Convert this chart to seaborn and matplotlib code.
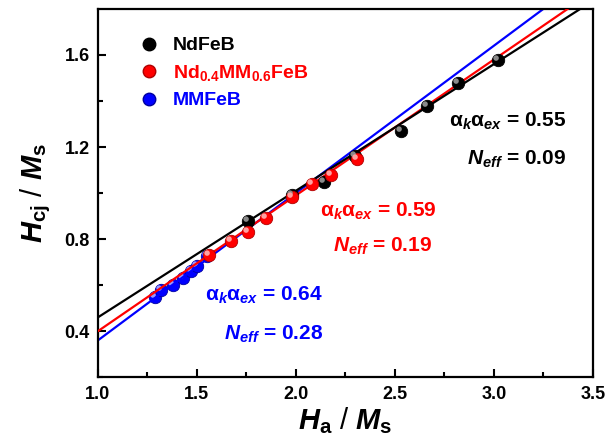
import numpy as np
import pandas as pd
import seaborn as sns
import matplotlib.pyplot as plt
import matplotlib.path as mpath
from matplotlib.lines import Line2D

# --- data ---
ndfeb_ha = [1.76, 1.98, 2.14, 2.30, 2.53, 2.66, 2.82, 3.02]
ndfeb_hcj = [0.88, 0.99, 1.05, 1.16, 1.27, 1.38, 1.48, 1.58]

ndmm_ha = [1.56, 1.67, 1.76, 1.85, 1.98, 2.08, 2.18, 2.31]
ndmm_hcj = [0.73, 0.79, 0.83, 0.89, 0.985, 1.04, 1.08, 1.15]

mmfeb_ha = [1.29, 1.32, 1.38, 1.43, 1.47, 1.50, 1.55]
mmfeb_hcj = [0.55, 0.58, 0.60, 0.63, 0.66, 0.685, 0.725]

# linear fits  Hcj/Ms = a_k*a_ex * Ha/Ms - N_eff
fit_slope = [0.55, 0.59, 0.64]
fit_neff = [0.09, 0.19, 0.28]
fit_range = np.array([1.0, 3.5])

names = ['NdFeB', 'Nd0.4MM0.6FeB', 'MMFeB']
legend_labels = ['NdFeB', r'Nd$_{\mathrm{0.4}}$MM$_{\mathrm{0.6}}$FeB', 'MMFeB']
colors = ['#000000', '#ff0000', '#0000ff']
edge_colors = ['#000000', '#b00000', '#0000a0']
glow_colors = ['#8a8a8a', '#ffa0a0', '#9a9aff']

df = pd.concat([
    pd.DataFrame({'Ha': ndfeb_ha, 'Hcj': ndfeb_hcj, 'alloy': names[0]}),
    pd.DataFrame({'Ha': ndmm_ha, 'Hcj': ndmm_hcj, 'alloy': names[1]}),
    pd.DataFrame({'Ha': mmfeb_ha, 'Hcj': mmfeb_hcj, 'alloy': names[2]}),
])

# --- style ---
sns.set_theme(style='ticks')
plt.rcParams['font.family'] = ['Liberation Sans', 'DejaVu Sans']
plt.rcParams['font.weight'] = 'bold'
plt.rcParams['text.color'] = 'black'
plt.rcParams['axes.labelcolor'] = 'black'
plt.rcParams['xtick.color'] = 'black'
plt.rcParams['ytick.color'] = 'black'
plt.rcParams['mathtext.fontset'] = 'custom'
plt.rcParams['mathtext.rm'] = 'Liberation Sans:bold'
plt.rcParams['mathtext.bf'] = 'Liberation Sans:bold'
plt.rcParams['mathtext.it'] = 'Liberation Sans:italic:bold'

fig = plt.figure(figsize=(6.08, 4.48), dpi=100)
ax = fig.add_axes([0.161, 0.158, 0.814, 0.822])

# small highlight spot to make the markers look like shaded balls
circ = mpath.Path.unit_circle()
spot = mpath.Path(circ.vertices * 0.25 + [-0.22, 0.22], circ.codes)

point_z = [4, 4, 1.5]
for i, name in enumerate(names):
    sub = df[df['alloy'] == name]
    sns.scatterplot(data=sub, x='Ha', y='Hcj', color=colors[i], s=80,
                    edgecolor=edge_colors[i], linewidth=0.6, ax=ax,
                    zorder=point_z[i], legend=False)
    ax.scatter(sub['Ha'], sub['Hcj'], marker=spot, s=55, color=glow_colors[i],
               linewidths=0, zorder=point_z[i] + 0.1)

line_z = [3.5, 3, 2]
for i in range(3):
    fy = fit_slope[i] * fit_range - fit_neff[i]
    sns.lineplot(x=fit_range, y=fy, color=colors[i], linewidth=1.6, ax=ax,
                 zorder=line_z[i])

ax.set_xlim(1.0, 3.5)
ax.set_ylim(0.2, 1.8)
ax.set_xticks([1.0, 1.5, 2.0, 2.5, 3.0, 3.5])
ax.set_xticks(np.arange(1.25, 3.5, 0.5), minor=True)
ax.set_yticks([0.4, 0.8, 1.2, 1.6])
ax.set_yticks([0.2, 0.6, 1.0, 1.4], minor=True)
ax.xaxis.set_major_formatter(plt.FormatStrFormatter('%.1f'))
ax.yaxis.set_major_formatter(plt.FormatStrFormatter('%.1f'))

ax.tick_params(which='major', direction='in', length=6, width=1.5,
               labelsize=13, pad=6, colors='black')
ax.tick_params(which='minor', direction='in', length=3.5, width=1.5,
               colors='black')
for sp in ax.spines.values():
    sp.set_linewidth(1.6)
    sp.set_color('black')

ax.set_xlabel(r'$\mathit{H}_{\mathrm{a}}$ / $\mathit{M}_{\mathrm{s}}$',
              fontsize=21, labelpad=2)
ax.set_ylabel(r'$\mathit{H}_{\mathrm{cj}}$ / $\mathit{M}_{\mathrm{s}}$',
              fontsize=21, labelpad=8)

# legend
handles = [Line2D([], [], marker='o', linestyle='none', markersize=9,
                  markerfacecolor=colors[i], markeredgecolor=edge_colors[i])
           for i in range(3)]
leg = ax.legend(handles, legend_labels, loc='upper left',
                bbox_to_anchor=(0.045, 0.972), frameon=False, fontsize=14,
                handletextpad=0.6, labelspacing=0.45, handlelength=1.2)
for t, c in zip(leg.get_texts(), colors):
    t.set_color(c)

# fit parameter annotations
ann_pos = [(0.947, 0.679, 0.947, 0.578),
           (0.685, 0.435, 0.675, 0.340),
           (0.455, 0.209, 0.455, 0.103)]
for i in range(3):
    xa, ya, xn, yn = ann_pos[i]
    ax.text(xa, ya, r'α$_{\mathit{k}}$α$_{\mathit{ex}}$ = %.2f' % fit_slope[i],
            transform=ax.transAxes, ha='right', va='baseline',
            fontsize=15, color=colors[i])
    ax.text(xn, yn, r'$\mathit{N}_{\mathit{eff}}$ = %.2f' % fit_neff[i],
            transform=ax.transAxes, ha='right', va='baseline',
            fontsize=15, color=colors[i])

fig.savefig('out.png', dpi=100)
